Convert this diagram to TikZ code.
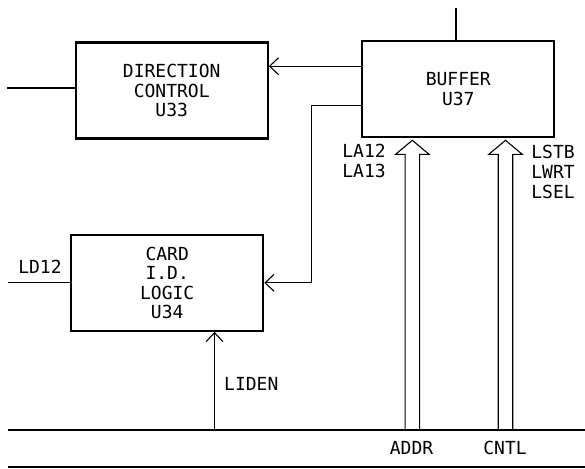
\documentclass[tikz,border=0pt]{standalone}
\usepackage{fontspec}
\newfontfamily\plotfont{DejaVu Sans Mono}
\usepackage{tikz}
\usetikzlibrary{arrows.meta, positioning, calc}

\begin{document}
\begin{tikzpicture}[
  x=1pt, y=-1pt,
  blk/.style  = {rectangle, draw=black, line width=2.2pt,
                 minimum width=192pt, minimum height=96pt,
                 font=\plotfont\fontsize{18}{19.5}\selectfont, align=center},
  sig/.style  = {line width=1.1pt},
  arr/.style  = {sig, -{Straight Barb[length=9pt, width=17pt, line width=1.1pt]}},
  fat/.style  = {line width=1.1pt, line join=miter},
  bus/.style  = {line width=2.4pt},
  lbl/.style  = {font=\plotfont\fontsize{18}{20}\selectfont, inner sep=0pt, align=left}
]
\useasboundingbox (0,0) rectangle (585,468);

% ── Blocks ────────────────────────────────────────────────────────────────────
\node[blk] (dirctl) at (171.7,90.5)  {DIRECTION\\CONTROL\\U33};
\node[blk] (buffer) at (458.3,89.2)  {BUFFER\\U37};
\node[blk] (cardid) at (167.2,282.8) {CARD\\I.D.\\LOGIC\\U34};

% ── Free line ends ────────────────────────────────────────────────────────────
\coordinate (dirin) at (7.3,88);
\coordinate (bufin) at (456,8);
\coordinate (ldin)  at (7.5,282.5);
\coordinate (busL)  at (8,430);
\coordinate (busR)  at (585,430);
\coordinate (botL)  at (8,467);
\coordinate (botR)  at (585,467);
\coordinate (lidn)  at (214.5,430);
\coordinate (addr)  at (412.3,430);
\coordinate (cntl)  at (505.5,430);

% ── Single lines ──────────────────────────────────────────────────────────────
\draw[sig] (dirin) -- (dirin -| dirctl.west);
\draw[sig] (bufin) -- (bufin |- buffer.north);
\draw[sig] (ldin)  -- (ldin -| cardid.west);

% ── Buffer → direction control / card id ─────────────────────────────────────
\draw[arr] ([yshift=23pt]buffer.west) -- ([yshift=23pt]buffer.west -| dirctl.east);
\draw[arr] ([yshift=-16pt]buffer.west) -- ++(-50,0) |- (cardid.east);

% ── Bus → card id ─────────────────────────────────────────────────────────────
\draw[arr] (lidn) -- (lidn |- cardid.south);

% ── Bus lines ─────────────────────────────────────────────────────────────────
\draw[bus] (busL) -- (busR);
\draw[bus] (botL) -- (botR);

% ── Wide bus arrows into buffer ───────────────────────────────────────────────
\foreach \c in {addr, cntl}
  \draw[fat] ($(\c)+(-7.25,0)$) -- ($(\c |- buffer.south)+(-7.25,16)$)
    -- ++(-9.45,0) -- ($(\c |- buffer.south)+(0,2)$)
    -- ($(\c |- buffer.south)+(16.7,16)$) -- ++(-9.45,0)
    -- ($(\c)+(7.25,0)$);

% ── Labels ────────────────────────────────────────────────────────────────────
\node[lbl, align=right] (addrsig)  at (364,161)   {LA12\\LA13};
\node[lbl]              (cntlsig)  at (553,172)   {LSTB\\LWRT\\LSEL};
\node[lbl]              (addrlbl)  at (411.5,448) {ADDR};
\node[lbl]              (cntllbl)  at (505,447.5) {CNTL};
\node[lbl, anchor=west] (lidenlbl) at (224,383.5) {LIDEN};
\node[lbl]              (ld12lbl)  at (40,267)    {LD12};
\end{tikzpicture}
\end{document}
